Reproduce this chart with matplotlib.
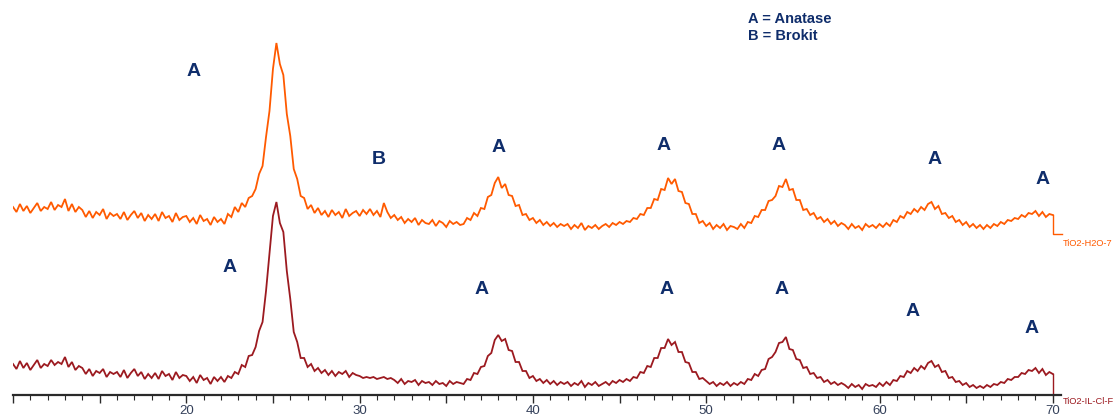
import numpy as np
import matplotlib
matplotlib.use("Agg")
import matplotlib.pyplot as plt
from matplotlib.ticker import MultipleLocator, FuncFormatter

# ---------------- data ----------------
# 2-theta scan grid (degrees), 0.2 deg step from 10 to 70
two_theta_start = 10.0
two_theta_step = 0.2
n_points = 301

# TiO2-H2O-7 trace (displayed with its vertical offset included)
h2o_trace = [
    188, 183, 191, 184, 189, 182, 187, 192, 184, 188,
    186, 193, 185, 190, 188, 196, 184, 191, 183, 188,
    185, 178, 184, 177, 183, 180, 186, 176, 182, 179,
    181, 176, 183, 175, 180, 184, 177, 182, 174, 180,
    176, 181, 174, 183, 177, 179, 173, 182, 175, 178,
    179, 173, 177, 171, 180, 174, 176, 170, 178, 173,
    176, 171, 181, 178, 188, 183, 192, 188, 197, 199,
    206, 221, 229, 258, 284, 326, 352, 331, 320, 281,
    259, 226, 216, 199, 197, 186, 190, 182, 187, 180,
    184, 178, 185, 180, 183, 177, 186, 179, 182, 184,
    179, 185, 181, 186, 180, 184, 178, 192, 183, 177,
    180, 175, 178, 172, 176, 173, 177, 170, 175, 172,
    171, 175, 169, 174, 172, 168, 174, 171, 173, 170,
    171, 177, 175, 182, 179, 187, 186, 198, 200, 212,
    218, 207, 211, 200, 199, 189, 190, 180, 181, 175,
    177, 172, 175, 170, 173, 169, 172, 168, 171, 169,
    171, 166, 170, 167, 172, 165, 169, 167, 170, 166,
    169, 171, 168, 172, 170, 173, 171, 174, 173, 177,
    176, 181, 180, 187, 187, 196, 195, 206, 205, 217,
    211, 216, 204, 203, 192, 191, 181, 181, 172, 174,
    169, 172, 166, 170, 167, 171, 165, 169, 168, 166,
    171, 167, 173, 172, 179, 178, 185, 185, 194, 195,
    199, 209, 208, 216, 205, 206, 195, 195, 185, 186,
    180, 182, 176, 178, 173, 176, 171, 174, 169, 172,
    170, 166, 171, 167, 169, 165, 171, 168, 170, 167,
    171, 168, 172, 169, 175, 173, 179, 177, 183, 181,
    186, 183, 188, 185, 191, 193, 186, 189, 181, 182,
    177, 179, 173, 175, 170, 173, 168, 171, 167, 170,
    166, 170, 167, 171, 169, 173, 171, 175, 174, 177,
    176, 180, 178, 182, 181, 184, 179, 183, 178, 181,
    180,
]
h2o_baseline = 161  # zero level of the offset H2O trace

# TiO2-IL-Cl-F trace
il_trace = [
    31, 26, 34, 27, 32, 25, 30, 35, 27, 31,
    29, 35, 30, 33, 31, 38, 28, 33, 25, 29,
    27, 21, 26, 19, 24, 22, 26, 18, 23, 21,
    23, 18, 25, 17, 22, 26, 19, 23, 16, 21,
    17, 22, 16, 24, 19, 21, 15, 23, 17, 20,
    19, 14, 18, 12, 20, 15, 17, 11, 18, 14,
    18, 13, 19, 17, 23, 21, 30, 28, 39, 40,
    48, 64, 73, 104, 141, 179, 193, 172, 163, 124,
    96, 63, 53, 37, 37, 28, 31, 24, 27, 22,
    25, 20, 24, 19, 23, 21, 24, 18, 22, 20,
    19, 17, 18, 17, 18, 16, 17, 18, 16, 17,
    15, 12, 16, 11, 14, 13, 15, 10, 14, 12,
    13, 10, 14, 11, 12, 9, 14, 11, 13, 12,
    11, 16, 15, 22, 21, 28, 29, 39, 42, 55,
    60, 54, 56, 45, 44, 33, 33, 24, 24, 17,
    19, 14, 16, 12, 15, 11, 14, 10, 13, 11,
    13, 9, 12, 10, 14, 8, 12, 10, 13, 9,
    11, 13, 10, 14, 12, 15, 13, 16, 14, 18,
    17, 23, 22, 29, 28, 37, 37, 47, 47, 56,
    50, 53, 43, 43, 33, 32, 23, 23, 16, 17,
    14, 11, 13, 9, 12, 10, 13, 9, 12, 10,
    13, 11, 16, 15, 21, 19, 25, 26, 36, 38,
    43, 52, 53, 58, 46, 45, 36, 35, 27, 28,
    21, 22, 17, 18, 13, 15, 11, 13, 10, 12,
    10, 7, 11, 8, 10, 6, 11, 9, 10, 8,
    12, 9, 13, 10, 15, 14, 19, 18, 24, 22,
    27, 24, 29, 26, 32, 34, 28, 30, 23, 24,
    17, 18, 13, 14, 10, 12, 8, 10, 7, 9,
    7, 10, 8, 11, 10, 13, 12, 16, 15, 18,
    18, 22, 21, 25, 24, 27, 22, 26, 20, 23,
    21,
]
il_baseline = 0

series_names = ["TiO2-H2O-7", "TiO2-IL-Cl-F"]

# phase annotations: (2theta, intensity, letter)
h2o_labels_x = [20.4, 31.1, 38.0, 47.55, 54.2, 63.15, 69.4]
h2o_labels_y = [324, 235, 247, 249, 249, 235, 216]
h2o_labels_t = ["A", "B", "A", "A", "A", "A", "A"]
il_labels_x = [22.5, 37.05, 47.7, 54.35, 61.9, 68.8]
il_labels_y = [127, 106, 106, 106, 84, 67]
il_labels_t = ["A", "A", "A", "A", "A", "A"]

legend_lines = ["A = Anatase", "B = Brokit"]

# ---------------- style ----------------
orange = "#FF5A00"
darkred = "#9C1A20"
navy = "#0F2D6B"
tickcol = "#34405A"

W, H = 1114, 419
fig = plt.figure(figsize=(W / 100, H / 100), dpi=100)
ax_left_px, ax_right_px, ax_axis_px = 13, 1061, 395
ax = fig.add_axes([ax_left_px / W, (H - ax_axis_px) / H,
                   (ax_right_px - ax_left_px) / W, ax_axis_px / H])
ax.set_xlim(10, 10 + (ax_right_px - ax_left_px) / 17.33)
ax.set_ylim(0, 395)

x = np.round(two_theta_start + two_theta_step * np.arange(n_points), 2)
h2o = np.array(h2o_trace, dtype=float)
il = np.array(il_trace, dtype=float)

ax.plot(x, h2o, color=orange, lw=1.3, solid_joinstyle="miter")
ax.plot(x, il, color=darkred, lw=1.3, solid_joinstyle="miter")

# end markers (drop to each trace's zero line and short tail)
x_end = x[-1]
tail = 0.55
ax.plot([x_end, x_end, x_end + tail], [h2o[-1], h2o_baseline, h2o_baseline],
        color=orange, lw=1.0, clip_on=False)
ax.plot([x_end, x_end], [il[-1], il_baseline], color=darkred, lw=1.0, clip_on=False)

# series labels at right
lab_font = dict(family=["Liberation Sans Narrow", "Liberation Sans", "DejaVu Sans"],
                fontsize=6.7)
ax.text(x_end + tail, h2o_baseline - 9, series_names[0], color=orange,
        ha="left", va="center", clip_on=False, **lab_font)
ax.text(x_end + tail, il_baseline - 6, series_names[1], color=darkred,
        ha="left", va="center", clip_on=False, **lab_font)

# phase letters
bold = dict(family=["Liberation Sans", "DejaVu Sans"], fontweight="bold",
            fontsize=14, color=navy, ha="center", va="center")
for xx, yy, t in zip(h2o_labels_x, h2o_labels_y, h2o_labels_t):
    ax.text(xx, yy, t, **bold)
for xx, yy, t in zip(il_labels_x, il_labels_y, il_labels_t):
    ax.text(xx, yy, t, **bold)

# legend text
for i, s in enumerate(legend_lines):
    fig.text(748 / W, 1 - (19 + 17 * i) / H, s, family=["Liberation Sans", "DejaVu Sans"],
             fontweight="bold", fontsize=10.5, color=navy, ha="left", va="center")

# axes styling
for s in ["left", "right", "top"]:
    ax.spines[s].set_visible(False)
ax.spines["bottom"].set_color("#2A2A2A")
ax.spines["bottom"].set_linewidth(1.6)
ax.set_yticks([])
ax.xaxis.set_major_locator(MultipleLocator(5))
ax.xaxis.set_minor_locator(MultipleLocator(1))
ax.xaxis.set_major_formatter(FuncFormatter(
    lambda v, p: f"{int(round(v))}" if (round(v) % 10 == 0 and round(v) >= 20) else ""))
ax.tick_params(axis="x", which="major", direction="out", length=6, width=1.0,
               color="#2A2A2A", pad=1, labelsize=9.5, labelcolor=tickcol)
ax.tick_params(axis="x", which="minor", direction="out", length=3.5, width=0.8,
               color="#2A2A2A")
for lbl in ax.get_xticklabels():
    lbl.set_fontfamily(["Liberation Sans Narrow", "Liberation Sans", "DejaVu Sans"])

fig.savefig("out.png", dpi=100)
